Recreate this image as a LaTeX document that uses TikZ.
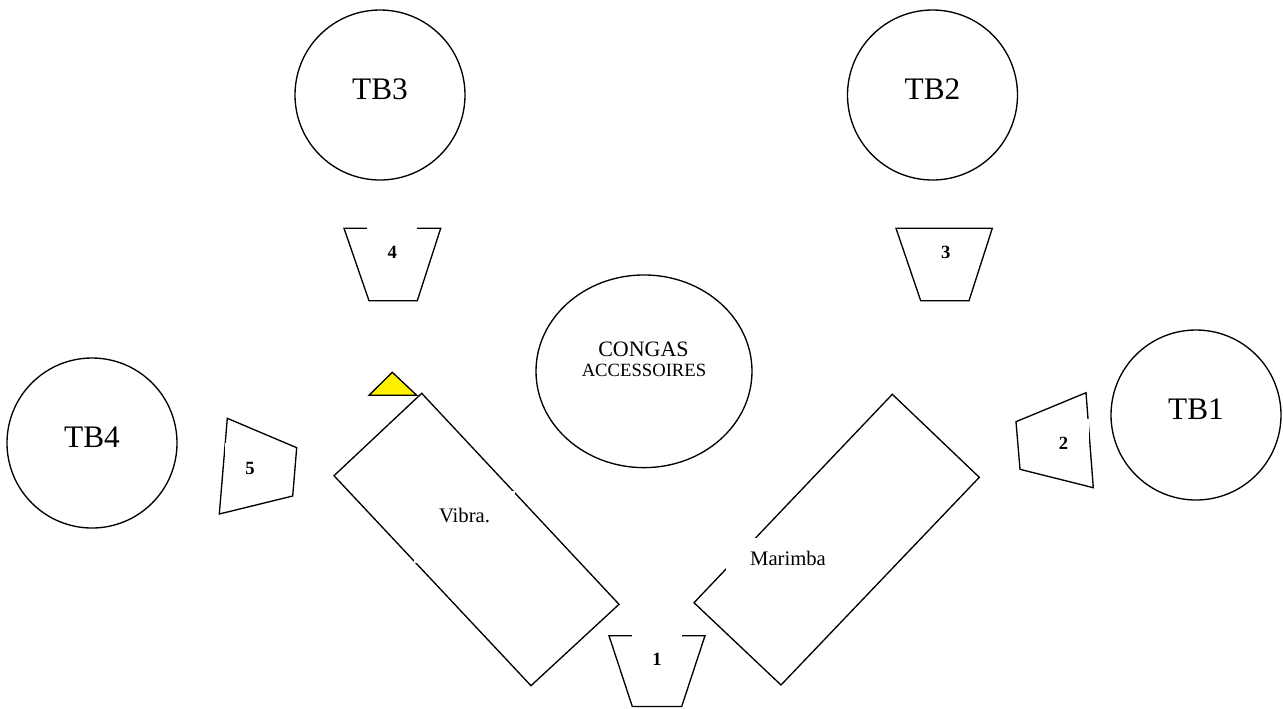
\documentclass[tikz,border=0pt]{standalone}
\usepackage{fontspec}
\setmainfont{Liberation Serif}
\usetikzlibrary{shapes.geometric}
\begin{document}
\begin{tikzpicture}[x=0.75pt,y=-0.75pt,line width=1pt]
\tikzstyle{every node}+=[inner sep=0pt]
\tikzstyle{drum}=[draw=black,circle,minimum size=127.5pt,font=\fontsize{23.5}{26}\selectfont,text depth=9pt]
\tikzstyle{num}=[fill=white,minimum width=37.5pt,minimum height=37.5pt,font=\fontsize{14}{16}\selectfont\bfseries]
\tikzstyle{instr}=[fill=white,font=\fontsize{15.5}{18}\selectfont]
\useasboundingbox (0,0) rectangle (1283,708);
\node [drum] (tb3) at (380,95) {TB3};
\node [drum] (tb2) at (932.5,95) {TB2};
\node [drum] (tb4) at (92,443) {TB4};
\node [drum] (tb1) at (1196,415) {TB1};
\node [draw=black,ellipse,minimum width=162pt,minimum height=144.5pt] (congas) at (644,371.3) {};
\node [font=\fontsize{16.5}{18}\selectfont] (congastxt) at (643.5,349.5) {CONGAS};
\node [font=\fontsize{14}{16}\selectfont] (acctxt) at (644,370.3) {ACCESSOIRES};
\draw [black] (344,228.3) -- (440.7,228.3) -- (417.3,300.7) -- (369,300.7) -- cycle;
\draw [black] (896,228.3) -- (992.3,228.3) -- (969,300.7) -- (920.7,300.7) -- cycle;
\draw [black] (609,635.7) -- (705,635.7) -- (681.7,706.5) -- (632.3,706.5) -- cycle;
\draw [black] (227.3,418.3) -- (296.7,447.7) -- (292.7,496) -- (219.3,514) -- cycle;
\draw [black] (1086,392.7) -- (1093.3,487.7) -- (1020,469.3) -- (1016,421.7) -- cycle;
\draw [black] (421.7,393.3) -- (619,604.3) -- (531,685.7) -- (334,475.7) -- cycle;
\draw [black] (892.3,394.3) -- (979.3,477.3) -- (781,685) -- (694,602.7) -- cycle;
\filldraw [fill=yellow,draw=black] (392.3,372.3) -- (416.7,395.3) -- (369,395.3) -- cycle;
\node [num] (p4) at (392.3,252) {4};
\node [num,fill=none] (p3) at (945.7,252) {3};
\node [num] (p1) at (657,659.5) {1};
\node [num] (p5) at (250,468) {5};
\node [num] (p2) at (1063.5,443.5) {2};
\node [instr,minimum width=75.75pt,minimum height=54pt,text depth=18pt] (vibra) at (464.5,527) {Vibra.};
\node [instr,minimum width=93pt,minimum height=30pt] (marimba) at (788,558) {Marimba};
\end{tikzpicture}
\end{document}
